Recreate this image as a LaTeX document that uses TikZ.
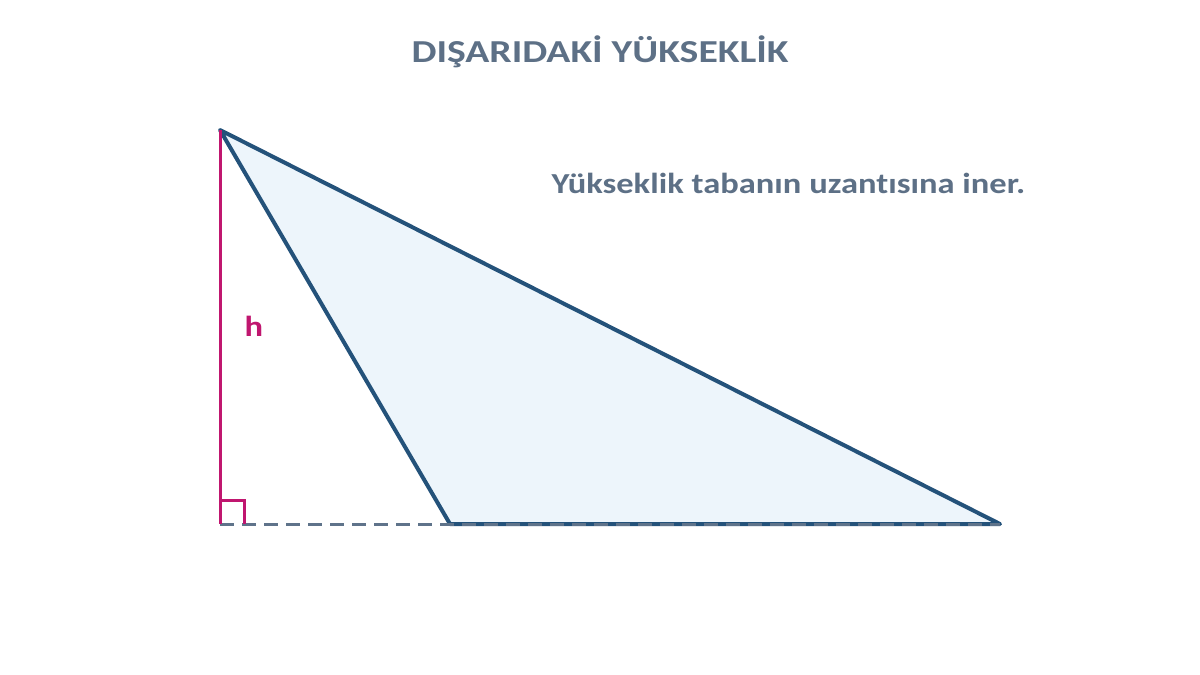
\documentclass[tikz,border=0pt]{standalone}
\usepackage{fontspec}
\setmainfont[Ligatures={NoCommon,NoRare}]{Carlito}
\newfontfamily\headfont[FakeStretch=1.24,Ligatures={NoCommon,NoRare}]{Carlito}
\newfontfamily\notefont[FakeStretch=1.19,Ligatures={NoCommon,NoRare}]{Carlito}
\usetikzlibrary{positioning}
\definecolor{titlegray}{HTML}{5D7086}
\definecolor{edgeblue}{HTML}{24527A}
\definecolor{fillblue}{HTML}{EDF5FB}
\definecolor{heightmag}{HTML}{C0166F}
\definecolor{dashgray}{HTML}{5F738A}

\begin{document}
\begin{tikzpicture}[
  x=1pt, y=-1pt,
  title/.style={font=\headfont\fontsize{32}{36}\selectfont\bfseries, text=titlegray},
  note/.style={font=\notefont\fontsize{29}{34}\selectfont\bfseries, text=titlegray},
  side/.style={draw=edgeblue, line width=4pt, line join=round},
  alt/.style={draw=heightmag, line width=3pt},
  ext/.style={draw=dashgray, line width=3pt, dash pattern=on 14pt off 8pt}
]
\useasboundingbox (0,0) rectangle (1200,675);

\coordinate (A) at (220,130);
\coordinate (B) at (450,524);
\coordinate (C) at (1000,524);
\coordinate (H) at (220,524);

\node[title] (head) at (600,52) {DIŞARIDAKİ YÜKSEKLİK};
\node[note, anchor=west] (rule) at (548,183) {Yükseklik tabanın uzantısına iner.};

\filldraw[side, fill=fillblue] (A) -- (B) -- (C) -- cycle;

\draw[ext] (H) -- (C);
\draw[alt] (A) -- (H);
\draw[alt] (220,500) -- (244,500) -- (244,524);

\node[font=\notefont\fontsize{29}{34}\selectfont\bfseries, text=heightmag] (h) at (254,326) {h};

\end{tikzpicture}
\end{document}
